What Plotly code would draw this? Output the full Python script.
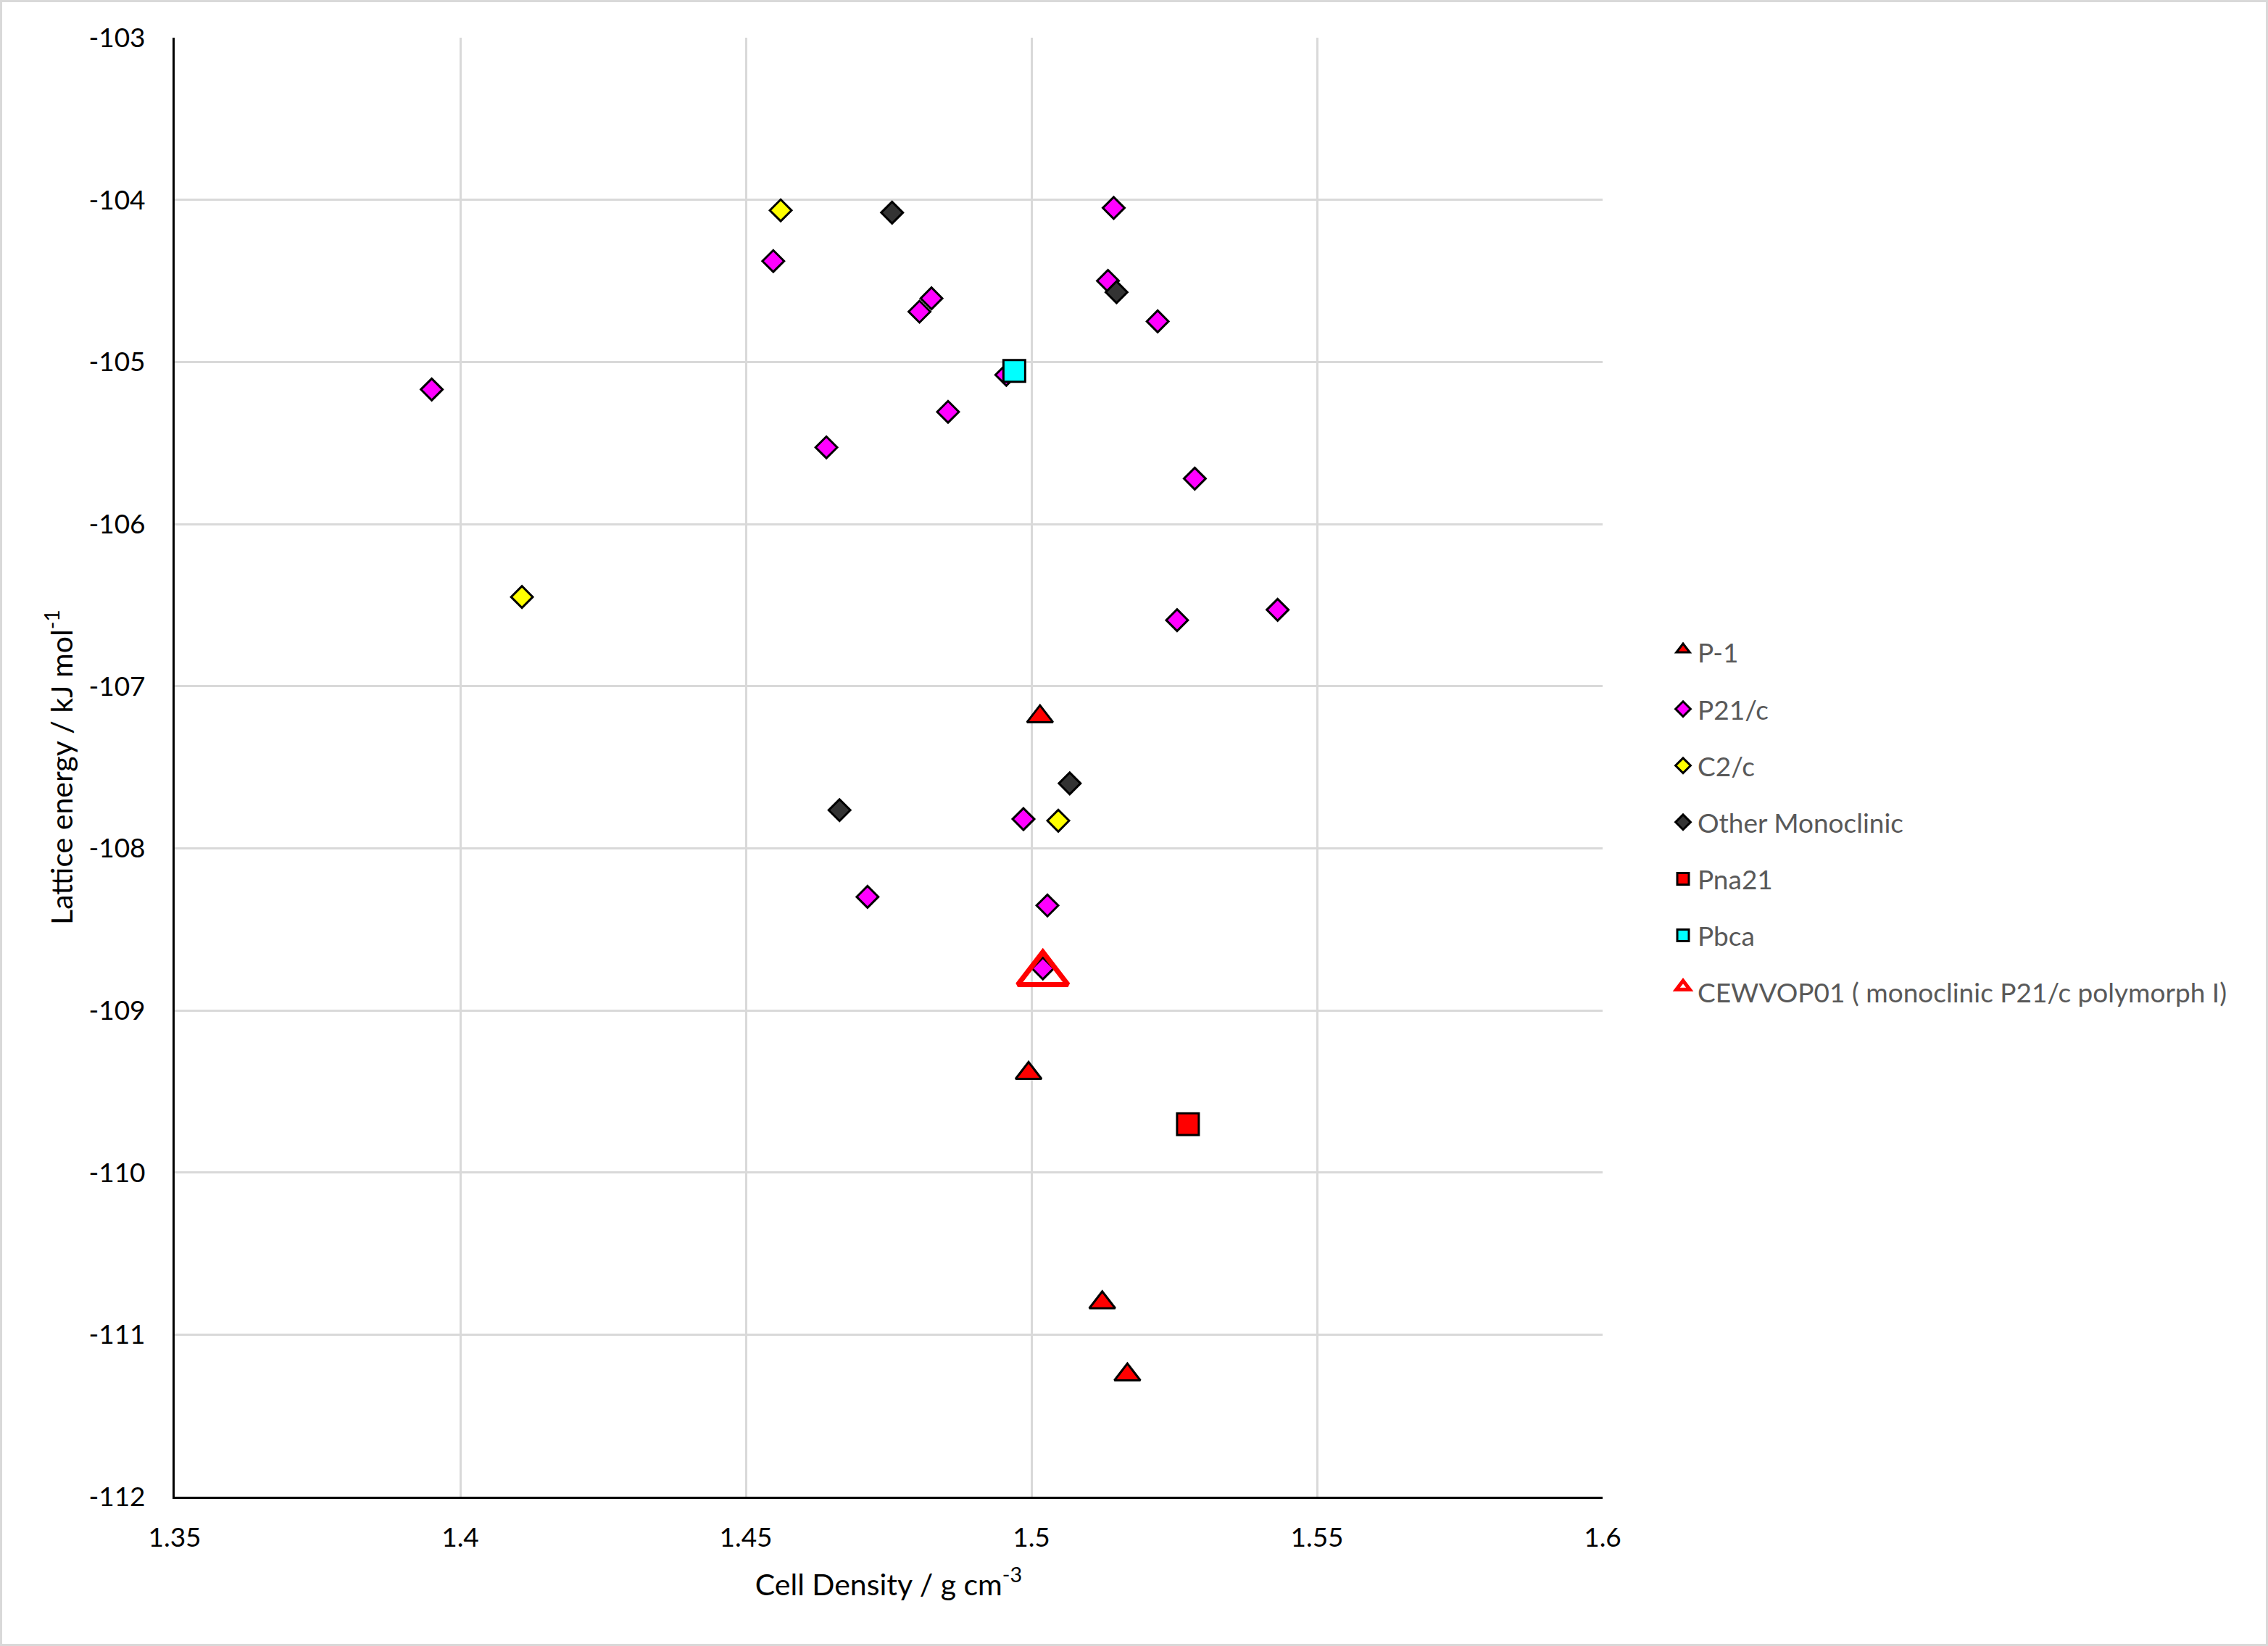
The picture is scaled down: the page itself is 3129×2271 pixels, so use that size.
import plotly.graph_objects as go

# ---------------- data ----------------
p1_density = [1.5015, 1.4995, 1.5124, 1.5168]
p1_energy = [-107.17, -109.37, -110.785, -111.23]

p21c_density = [1.3950, 1.4548, 1.4641, 1.4804, 1.4825, 1.4854, 1.4956, 1.5144,
                1.5134, 1.5221, 1.5286, 1.5255, 1.5431, 1.4986, 1.4713, 1.5028, 1.5020]
p21c_energy = [-105.17, -104.378, -105.527, -104.69, -104.608, -105.308, -105.08, -104.05,
               -104.50, -104.75, -105.72, -106.593, -106.529, -107.82, -108.30, -108.353, -108.741]

c2c_density = [1.4561, 1.4108, 1.5047]
c2c_energy = [-104.065, -106.45, -107.83]

othermono_density = [1.4756, 1.5149, 1.4664, 1.5067]
othermono_energy = [-104.079, -104.57, -107.765, -107.60]

pna21_density = [1.5274]
pna21_energy = [-109.702]

pbca_density = [1.4970]
pbca_energy = [-105.055]

cewvop_density = [1.5020]
cewvop_energy = [-108.741]

x_tickvals = [1.35, 1.4, 1.45, 1.5, 1.55, 1.6]
x_ticktext = ["1.35", "1.4", "1.45", "1.5", "1.55", "1.6"]
y_tickvals = [-103, -104, -105, -106, -107, -108, -109, -110, -111, -112]
y_ticktext = ["-103", "-104", "-105", "-106", "-107", "-108", "-109", "-110", "-111", "-112"]

# ---------------- figure ----------------
W, H = 3129, 2271
ML, MR, MT, MB = 241, 918, 52, 206
PW, PH = W - ML - MR, H - MT - MB

FONT = "Lato, 'Open Sans', sans-serif"

fig = go.Figure()

def add(name, xs, ys, symbol, color, size, lw=3, lcolor="black", group="g", standoff=0):
    fig.add_trace(go.Scatter(
        x=xs, y=ys, mode="markers", name=name, legendgroup=group,
        marker=dict(symbol=symbol, color=color, size=size, standoff=standoff,
                    line=dict(color=lcolor, width=lw)),
    ))

add("P-1", p1_density, p1_energy, "triangle-up", "#ff0000", 31, group="a", standoff=4)
add("P21/c", p21c_density, p21c_energy, "diamond", "#ff00ff", 23, group="b")
add("C2/c", c2c_density, c2c_energy, "diamond", "#ffff00", 23, group="c")
add("Other Monoclinic", othermono_density, othermono_energy, "diamond", "#333333", 23, group="d")
add("Pna21", pna21_density, pna21_energy, "square", "#ff0000", 30, group="e")
add("Pbca", pbca_density, pbca_energy, "square", "#00ffff", 30, group="f")
add("CEWVOP01 ( monoclinic P21/c polymorph I)", cewvop_density, cewvop_energy,
    "triangle-up-open", "#ff0000", 60, lw=7, lcolor="#ff0000", group="h", standoff=7.5)

# chart-area border (light grey frame around the whole chart)
fig.add_shape(type="rect", xref="paper", yref="paper", layer="below",
              x0=(1.5 - ML) / PW, x1=(W - 1.5 - ML) / PW,
              y0=((H - MB) - (H - 1.5)) / PH, y1=((H - MB) - 1.5) / PH,
              line=dict(color="#d9d9d9", width=3), fillcolor="rgba(0,0,0,0)")

fig.update_layout(
    width=W, height=H,
    margin=dict(l=ML, r=MR, t=MT, b=MB, autoexpand=False),
    paper_bgcolor="white", plot_bgcolor="white",
    font=dict(family=FONT, size=37, color="black"),
    showlegend=True,
    legend=dict(x=(2302 - ML) / PW, xanchor="left",
                y=1 - (1134.5 - MT) / PH, yanchor="middle",
                font=dict(family=FONT, size=37, color="#595959"),
                traceorder="grouped", tracegroupgap=27,
                bgcolor="rgba(0,0,0,0)", borderwidth=0,
                itemsizing="trace"),
    xaxis=dict(range=[1.35, 1.6], tickvals=x_tickvals, ticktext=x_ticktext,
               showgrid=True, gridcolor="#d9d9d9", gridwidth=3,
               showline=True, linecolor="black", linewidth=3,
               zeroline=False, ticks="", ticklabelstandoff=22,
               tickfont=dict(family=FONT, size=37, color="black"),
               title=dict(text="Cell Density / g cm<sup>-3</sup>", standoff=31,
                          font=dict(family=FONT, size=41, color="black")),
               automargin=False),
    yaxis=dict(range=[-112, -103], tickvals=y_tickvals, ticktext=y_ticktext,
               showgrid=True, gridcolor="#d9d9d9", gridwidth=3,
               showline=True, linecolor="black", linewidth=3,
               zeroline=False, ticks="", ticklabelstandoff=30,
               tickfont=dict(family=FONT, size=37, color="black"),
               title=dict(text="Lattice energy / kJ mol<sup>-1</sup>", standoff=10,
                          font=dict(family=FONT, size=41, color="black")),
               automargin=False),
)

fig.write_html("out.html")
